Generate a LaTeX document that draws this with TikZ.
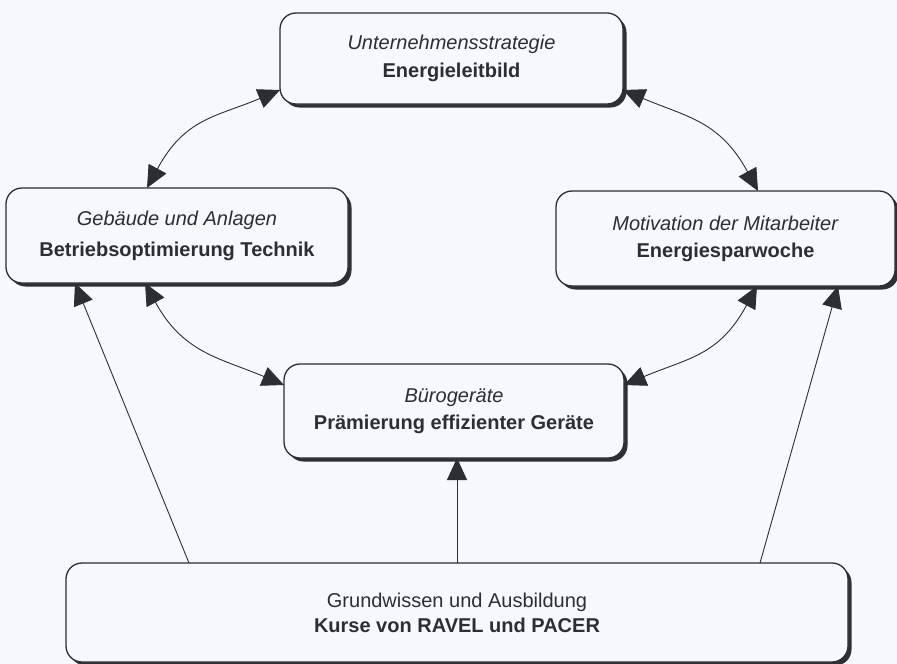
\documentclass[tikz,border=0pt]{standalone}
\usepackage{fontspec}
\setmainfont{Liberation Sans}
\usetikzlibrary{arrows.meta,shadows,calc}
\definecolor{bg}{RGB}{245,248,252}
\definecolor{ink}{RGB}{45,45,52}
\definecolor{shade}{RGB}{48,46,54}
\begin{document}
\begin{tikzpicture}[x=1pt,y=-1pt,
  box/.style={draw=ink, line width=1.3pt, rounded corners=16pt, fill=bg,
    inner sep=0pt, outer sep=0pt, align=center, text=ink,
    font=\fontsize{20}{28}\selectfont,
    drop shadow={shadow xshift=3.5pt, shadow yshift=-3.5pt, fill=shade, opacity=1}},
  link/.style={draw=ink, line width=0.9pt},
  headtip/.style={-{Triangle[length=22pt,width=20pt]}},
  bothtips/.style={{Triangle[length=22pt,width=20pt]}-{Triangle[length=22pt,width=20pt]}}]
\fill[bg] (0,0) rectangle (897,664);
\useasboundingbox (0,0) rectangle (897,664);

\node[box, minimum width=343pt, minimum height=91pt] (top) at (451.5,58.5)
  {\textit{Unternehmensstrategie}\\\textbf{Energieleitbild}};
\node[box, minimum width=342pt, minimum height=95pt, font=\fontsize{20}{31}\selectfont] (left) at (177,235.5)
  {\textit{Gebäude und Anlagen}\\\textbf{Betriebsoptimierung Technik}};
\node[box, minimum width=339pt, minimum height=95pt, font=\fontsize{20}{27}\selectfont] (right) at (725.5,238.5)
  {\textit{Motivation der Mitarbeiter}\\\textbf{Energiesparwoche}};
\node[box, minimum width=340pt, minimum height=94pt, font=\fontsize{20}{27}\selectfont] (mid) at (454,411)
  {\textit{Bürogeräte}\\\textbf{Prämierung effizienter Geräte}};
\node[box, minimum width=782pt, minimum height=99pt, font=\fontsize{20}{25}\selectfont] (bot) at (457,612.5)
  {Grundwissen und Ausbildung\\\textbf{Kurse von RAVEL und PACER}};

% curved two-headed connectors
\draw[link,bothtips] ($(left.north)+(-30,0)$) .. controls +(38,-70) and +(-64,27) .. ($(top.west)+(0,31.5)$);
\draw[link,bothtips] ($(right.north)+(32.5,0)$) .. controls +(-38,-70) and +(64,27) .. ($(top.east)+(0,31.5)$);
\draw[link,bothtips] ($(left.south)+(-32,0)$) .. controls +(38,70) and +(-64,-27) .. ($(mid.west)+(0,-26)$);
\draw[link,bothtips] ($(right.south)+(31.5,0)$) .. controls +(-38,70) and +(64,-27) .. ($(mid.east)+(0,-26)$);

% straight connectors from the base
\draw[link,headtip] ($(bot.north)+(-268,0)$) -- ($(left.south)+(-102,0)$);
\draw[link,headtip] ($(bot.north)+(303,0)$) -- ($(right.south)+(112.5,0)$);
\draw[link,headtip] (bot.north) -- (bot.north |- mid.south);
\end{tikzpicture}
\end{document}
